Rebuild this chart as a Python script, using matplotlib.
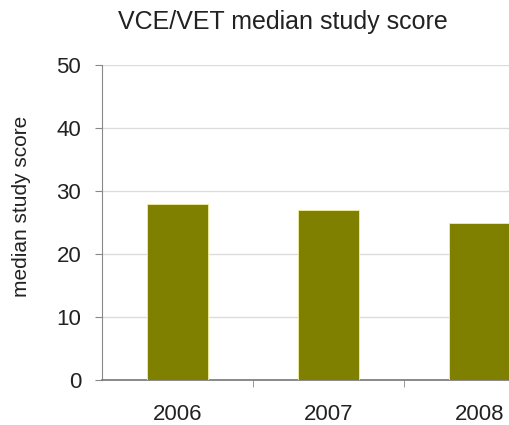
import matplotlib.pyplot as plt
import numpy as np

years = ["2006", "2007", "2008"]
scores = [28, 27, 25]
yticks = [0, 10, 20, 30, 40, 50]

plt.rcParams["font.family"] = ["Liberation Sans", "DejaVu Sans"]

fig = plt.figure(figsize=(5.09, 4.25), dpi=100)
# axes run past the right edge, the original picture was cropped there
ax = fig.add_axes([102 / 509, 45 / 425, 453 / 509, 315 / 425])

x = np.arange(len(years))
ax.bar(x, scores, width=0.4, color="#808000", edgecolor="#f4f0a0", linewidth=0.6, zorder=3)

ax.set_xlim(-0.5, 2.5)
ax.set_ylim(0, 50)
ax.set_yticks(yticks)
ax.set_yticklabels([str(v) for v in yticks], fontsize=16, color="#222222")
ax.yaxis.grid(True, color="#dcdcdc", linewidth=1.0, zorder=0)

# category labels centred, tick marks between categories
ax.set_xticks(x)
ax.set_xticklabels(years, fontsize=16, color="#222222")
ax.tick_params(axis="x", length=0, pad=17)
ax.set_xticks([0.5, 1.5], minor=True)
ax.tick_params(axis="x", which="minor", length=5, color="#888888", direction="out")
ax.tick_params(axis="y", length=5, color="#888888", direction="out", pad=10)

for s in ["top", "right"]:
    ax.spines[s].set_visible(False)
ax.spines["left"].set_color("#888888")
ax.spines["bottom"].set_color("#777777")
ax.spines["bottom"].set_linewidth(1.2)

fig.text(22 / 509, 1 - 206 / 425, "median study score", fontsize=15, rotation=90,
         color="#222222", ha="center", va="center")
fig.text(283 / 509, 1 - 22 / 425, "VCE/VET median study score", fontsize=18,
         color="#222222", ha="center", va="center")

fig.savefig("out.png", dpi=100)
